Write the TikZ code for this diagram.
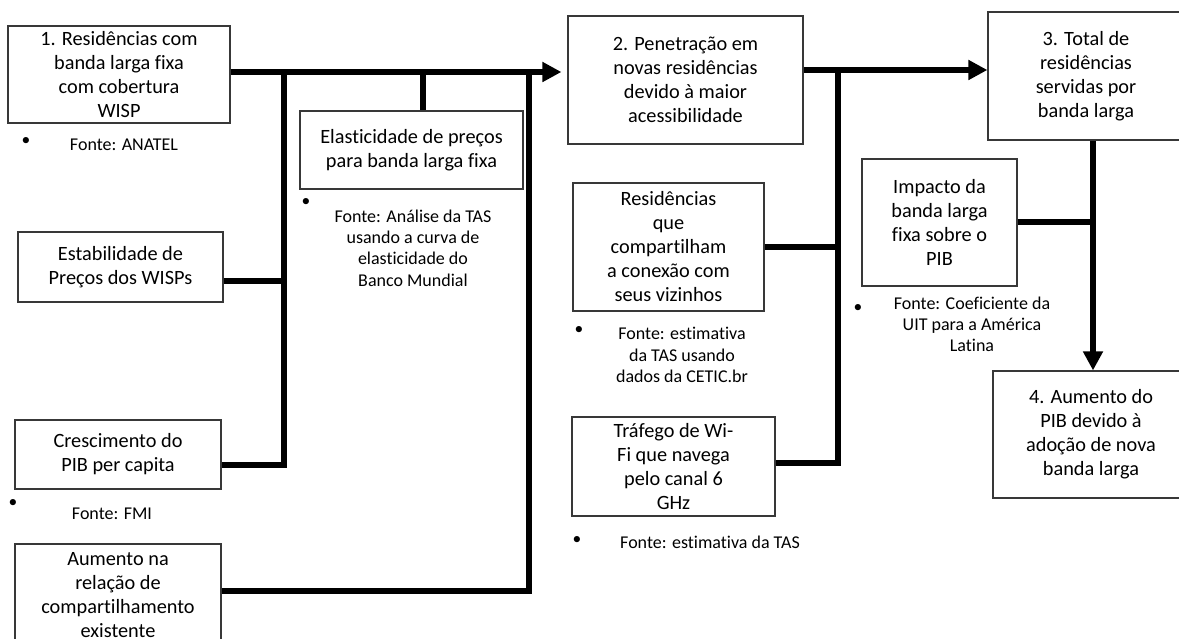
\documentclass[tikz,border=0pt]{standalone}
\usepackage{fontspec}
\setmainfont{Carlito}[Ligatures=NoCommon]
\usetikzlibrary{arrows.meta}
\begin{document}
\begin{tikzpicture}[x=1pt,y=-1pt,
  box/.style={draw=black!78,line width=1.2pt,align=center,inner sep=0pt,
    font=\fontsize{20.3}{24}\selectfont},
  src/.style={align=center,inner sep=0pt,font=\fontsize{18}{21.3}\selectfont},
  dot/.style={inner sep=0pt,font=\fontsize{17.5}{21}\selectfont},
  conn/.style={line width=5.5pt,black},
  arr/.style={conn,-{Triangle[length=19pt,width=19pt]}}]
\useasboundingbox (0,0) rectangle (1179,639);
\clip (0,0) rectangle (1179,639);

% main boxes
\node[box,minimum width=222pt,minimum height=97pt] (b1) at (119,74.5)
  {1. Residências com\\banda larga fixa\\com cobertura\\WISP};
\node[box,minimum width=235pt,minimum height=128pt] (b2) at (685.5,80)
  {2. Penetração em\\novas residências\\devido à maior\\acessibilidade};
\node[box,minimum width=196pt,minimum height=128pt] (b3) at (1086,76)
  {3. Total de\\residências\\servidas por\\banda larga};
\node[box,minimum width=196pt,minimum height=127pt] (b4) at (1091,434.5)
  {4. Aumento do\\PIB devido à\\adoção de nova\\banda larga};

% input boxes
\node[box,minimum width=223pt,minimum height=78pt] (elast) at (411.5,150)
  {Elasticidade de preços\\para banda larga fixa};
\node[box,minimum width=205pt,minimum height=70pt] (estab) at (120.5,267)
  {Estabilidade de\\Preços dos WISPs};
\node[box,minimum width=206pt,minimum height=69pt] (cres) at (118,454.5)
  {Crescimento do\\PIB per capita};
\node[box,minimum width=206pt,minimum height=102pt] (aum) at (118,595)
  {Aumento na\\relação de\\compartilhamento\\existente};
\node[box,minimum width=191pt,minimum height=128pt] (res) at (668.5,247)
  {Residências\\que\\compartilham\\a conexão com\\seus vizinhos};
\node[box,minimum width=203pt,minimum height=99pt] (traf) at (673.5,466.5)
  {Tráfego de Wi-\\Fi que navega\\pelo canal 6\\GHz};
\node[box,minimum width=155pt,minimum height=127pt] (imp) at (939.5,222.5)
  {Impacto da\\banda larga\\fixa sobre o\\PIB};

% sources
\node[dot] (d1) at (26,141) {•};
\node[src] (s1) at (124,145) {Fonte: ANATEL};
\node[dot] (d2) at (306,202) {•};
\node[src] (s2) at (413,248) {Fonte: Análise da TAS\\usando a curva de\\elasticidade do\\Banco Mundial};
\node[dot] (d3) at (13,503) {•};
\node[src] (s3) at (112,514) {Fonte: FMI};
\node[dot] (d4) at (579,330) {•};
\node[src] (s4) at (682,355) {Fonte: estimativa\\da TAS usando\\dados da CETIC.br};
\node[dot] (d5) at (858,308) {•};
\node[src] (s5) at (972,324.5) {Fonte: Coeficiente da\\UIT para a América\\Latina};
\node[dot] (d6) at (577,540) {•};
\node[src] (s6) at (710,542) {Fonte: estimativa da TAS};

% junction points of the connectors
\coordinate (m1) at (0,72);
\coordinate (m2) at (0,70);
\coordinate (j1) at (284,72);
\coordinate (j1e) at (284,281);
\coordinate (j1c) at (284,465);
\coordinate (j2) at (423,72);
\coordinate (j3) at (529,72);
\coordinate (j3a) at (529,591);
\coordinate (j4) at (838,70);
\coordinate (j4r) at (838,247);
\coordinate (j4t) at (838,463);
\coordinate (j5) at (1093,0);
\coordinate (j5i) at (1093,222);

% connectors
\draw[arr,shorten >=6pt] (b1.east |- m1) -- (b2.west |- m1);
\draw[conn] (j1) -- (j1c) -- (cres.east |- j1c);
\draw[conn] (estab.east |- j1e) -- (j1e);
\draw[conn] (j2) -- (elast.north -| j2);
\draw[conn] (j3) -- (j3a) -- (aum.east |- j3a);
\draw[arr] (b2.east |- m2) -- (b3.west |- m2);
\draw[conn] (j4) -- (j4t) -- (traf.east |- j4t);
\draw[conn] (res.east |- j4r) -- (j4r);
\draw[arr] (b3.south -| j5) -- (b4.north -| j5);
\draw[conn] (imp.east |- j5i) -- (j5i);
\end{tikzpicture}
\end{document}
